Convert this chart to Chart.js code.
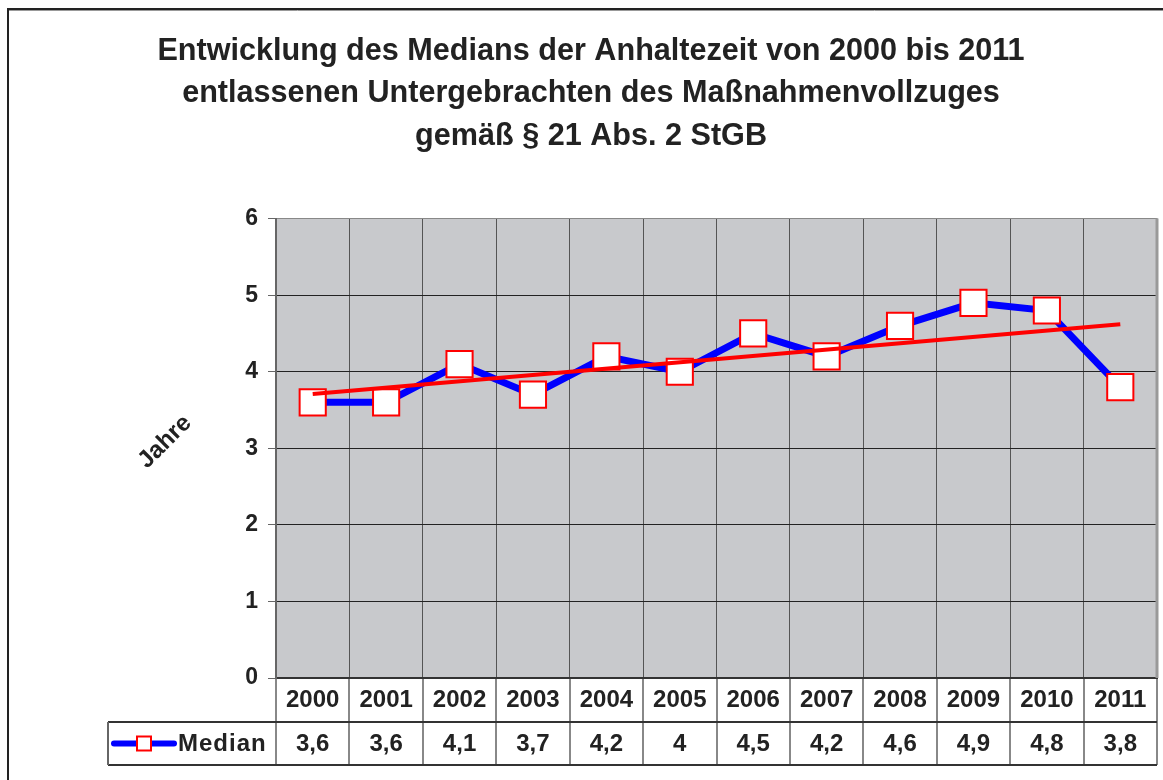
<!DOCTYPE html>
<html lang="de">
<head>
<meta charset="utf-8">
<title>Median der Anhaltezeit 2000–2011</title>
<script src="https://cdn.jsdelivr.net/npm/chart.js@4/dist/chart.umd.min.js"></script>
<style>
    html, body { margin: 0; padding: 0; background: #fff; overflow: hidden; }
    canvas { display: block; }
</style>
</head>
<body>
<canvas id="medianChart" width="1163" height="780"></canvas>
<script>
// Median der Anhaltezeit (Jahre) je Entlassungsjahr
const years = ['2000', '2001', '2002', '2003', '2004', '2005', '2006', '2007', '2008', '2009', '2010', '2011'];
const medianValues = [3.6, 3.6, 4.1, 3.7, 4.2, 4, 4.5, 4.2, 4.6, 4.9, 4.8, 3.8];
// linearer Trend: nur Anfangs- und Endwert, dazwischen Lücken
const trendValues = [3.71, null, null, null, null, null, null, null, null, null, null, 4.62];
const yTickValues = [0, 1, 2, 3, 4, 5, 6];

const titleLines = [
    'Entwicklung des Medians der Anhaltezeit von 2000 bis 2011',
    'entlassenen Untergebrachten des Maßnahmenvollzuges',
    'gemäß § 21 Abs. 2 StGB'
];

const FONT = '"Liberation Sans", Arial, sans-serif';
const TEXT_COLOR = '#222';
const PLOT_FILL = '#c8c9cc';
const LINE_BLUE = '#0000ff';
const MARK_RED = '#ff0000';

const HEADER_ROW_H = 44;
const VALUE_ROW_H = 43;
const TABLE_LEFT = 108;

const formatValue = (v) => String(v).replace('.', ',');

// Hintergrund, Rahmen und graue Zeichenfläche
const backdropPlugin = {
    id: 'backdrop',
    beforeDraw(chart) {
        const { ctx, chartArea: a } = chart;
        ctx.save();
        ctx.fillStyle = '#fff';
        ctx.fillRect(0, 0, chart.width, chart.height);

        ctx.strokeStyle = '#222';
        ctx.lineWidth = 2;
        ctx.beginPath();
        ctx.moveTo(8, chart.height);
        ctx.lineTo(8, 9);
        ctx.lineTo(chart.width, 9);
        ctx.stroke();
        ctx.strokeStyle = '#999';
        ctx.lineWidth = 1;
        ctx.beginPath();
        ctx.moveTo(9, 10.5);
        ctx.lineTo(chart.width, 10.5);
        ctx.stroke();

        ctx.fillStyle = PLOT_FILL;
        ctx.fillRect(a.left, a.top, a.right - a.left, a.bottom - a.top);
        ctx.restore();
    }
};

// Datentabelle unter der Achse, Legendeneintrag und Achsentitel
const dataTablePlugin = {
    id: 'dataTable',
    afterDraw(chart) {
        const { ctx, chartArea: a } = chart;
        const x = chart.scales.x;
        const half = (x.getPixelForValue(1) - x.getPixelForValue(0)) / 2;
        const rowTop = a.bottom + HEADER_ROW_H;
        const rowBottom = rowTop + VALUE_ROW_H;
        const rowMid = rowTop + VALUE_ROW_H / 2;

        ctx.save();

        // rechter Rand der Zeichenfläche
        ctx.strokeStyle = '#999';
        ctx.lineWidth = 3;
        ctx.beginPath();
        ctx.moveTo(a.right, a.top);
        ctx.lineTo(a.right, a.bottom);
        ctx.stroke();

        // Spaltentrenner
        ctx.strokeStyle = '#888';
        ctx.lineWidth = 2;
        for (let i = 0; i <= years.length; i++) {
            const bx = Math.round(x.getPixelForValue(0) - half + i * 2 * half);
            ctx.beginPath();
            ctx.moveTo(bx, a.bottom + 1);
            ctx.lineTo(bx, rowBottom);
            ctx.stroke();
        }

        // Zeilenlinien
        ctx.strokeStyle = '#333';
        ctx.lineWidth = 2;
        ctx.beginPath();
        ctx.moveTo(TABLE_LEFT, rowTop);
        ctx.lineTo(a.right, rowTop);
        ctx.moveTo(TABLE_LEFT, rowBottom);
        ctx.lineTo(a.right, rowBottom);
        ctx.stroke();
        ctx.strokeStyle = '#666';
        ctx.beginPath();
        ctx.moveTo(TABLE_LEFT, rowTop);
        ctx.lineTo(TABLE_LEFT, rowBottom);
        ctx.stroke();

        // Werte
        ctx.fillStyle = TEXT_COLOR;
        ctx.font = `bold 24px ${FONT}`;
        ctx.textAlign = 'center';
        ctx.textBaseline = 'middle';
        medianValues.forEach((v, i) => {
            ctx.fillText(formatValue(v), x.getPixelForValue(i), rowMid + 1);
        });

        // Legendeneintrag
        ctx.strokeStyle = LINE_BLUE;
        ctx.lineWidth = 6;
        ctx.lineCap = 'round';
        ctx.beginPath();
        ctx.moveTo(TABLE_LEFT + 6, rowMid);
        ctx.lineTo(TABLE_LEFT + 66, rowMid);
        ctx.stroke();
        ctx.lineCap = 'butt';
        ctx.fillStyle = '#fff';
        ctx.fillRect(TABLE_LEFT + 29, rowMid - 7, 14, 14);
        ctx.strokeStyle = MARK_RED;
        ctx.lineWidth = 2;
        ctx.strokeRect(TABLE_LEFT + 29, rowMid - 7, 14, 14);

        ctx.fillStyle = TEXT_COLOR;
        ctx.textAlign = 'left';
        ctx.font = `bold 24px ${FONT}`;
        ctx.letterSpacing = '1px';
        ctx.fillText('Median', TABLE_LEFT + 70, rowMid + 1);
        ctx.letterSpacing = '0px';

        // Achsentitel, schräg
        ctx.translate(165, 442);
        ctx.rotate(-Math.PI / 4);
        ctx.textAlign = 'center';
        ctx.font = `bold 24px ${FONT}`;
        ctx.fillText('Jahre', 0, 0);

        ctx.restore();
    }
};

new Chart(document.getElementById('medianChart'), {
    type: 'line',
    data: {
        labels: years,
        datasets: [
            {
                label: 'Trend',
                data: trendValues,
                borderColor: MARK_RED,
                borderWidth: 4,
                pointRadius: 0,
                spanGaps: true,
                order: 0
            },
            {
                label: 'Median',
                data: medianValues,
                borderColor: LINE_BLUE,
                borderWidth: 7,
                tension: 0,
                pointStyle: 'rect',
                pointRadius: 18.5,
                pointBackgroundColor: '#fff',
                pointBorderColor: MARK_RED,
                pointBorderWidth: 2,
                order: 1
            }
        ]
    },
    options: {
        responsive: false,
        animation: false,
        layout: {
            autoPadding: false,
            padding: { top: 8, left: 25, right: 6, bottom: 0 }
        },
        scales: {
            x: {
                offset: true,
                grid: {
                    offset: true,
                    color: '#555',
                    lineWidth: 1,
                    drawTicks: false
                },
                border: { color: '#333', width: 2 },
                ticks: {
                    color: TEXT_COLOR,
                    font: { family: FONT, size: 24, weight: 'bold' },
                    padding: 8,
                    maxRotation: 0,
                    autoSkip: false
                },
                afterFit: (scale) => {
                    scale.height = 102;
                    scale.paddingLeft = 0;
                    scale.paddingRight = 0;
                }
            },
            y: {
                min: 0,
                max: 6,
                afterBuildTicks: (scale) => {
                    scale.ticks = yTickValues.map((value) => ({ value }));
                },
                grid: {
                    color: (c) => (c.tick && c.tick.value === 6 ? '#888' : '#222'),
                    lineWidth: 1,
                    tickColor: '#666',
                    tickLength: 8
                },
                border: { color: '#666', width: 2 },
                ticks: {
                    color: TEXT_COLOR,
                    font: { family: FONT, size: 23, weight: 'bold' },
                    padding: 10
                },
                afterFit: (scale) => { scale.width = 251; }
            }
        },
        plugins: {
            legend: { display: false },
            tooltip: { enabled: false },
            title: {
                display: true,
                text: titleLines,
                color: TEXT_COLOR,
                font: { family: FONT, size: 30.6, weight: 'bold', lineHeight: 1.39 },
                padding: { top: 22, bottom: 61 }
            }
        }
    },
    plugins: [backdropPlugin, dataTablePlugin]
});
</script>
</body>
</html>
